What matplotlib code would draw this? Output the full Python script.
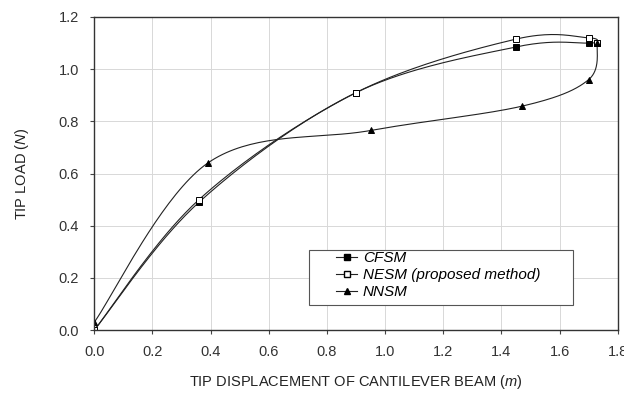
import numpy as np
import matplotlib.pyplot as plt
from matplotlib.lines import Line2D
from matplotlib.patches import Rectangle

plt.rcParams['font.family'] = 'Liberation Sans'
plt.rcParams['mathtext.fontset'] = 'custom'
plt.rcParams['mathtext.it'] = 'Liberation Sans:italic'
plt.rcParams['mathtext.rm'] = 'Liberation Sans'

# data
cfsm_x = [0.0, 0.36, 0.90, 1.45, 1.70, 1.73]
cfsm_y = [0.0, 0.49, 0.91, 1.085, 1.10, 1.10]
nesm_x = [0.0, 0.36, 0.90, 1.45, 1.70, 1.73]
nesm_y = [0.0, 0.50, 0.91, 1.115, 1.12, 1.10]
nnsm_x = [0.0, 0.39, 0.95, 1.47, 1.70, 1.73]
nnsm_y = [0.03, 0.64, 0.765, 0.858, 0.96, 1.10]
labels = ['CFSM', 'NESM (proposed method)', 'NNSM']


def smooth(xs, ys, n=40):
    # cardinal spline through the points, like a smoothed spreadsheet line
    p = np.column_stack([xs, ys]).astype(float)
    p = np.vstack([p[0], p, p[-1]])
    out = []
    for i in range(1, len(p) - 2):
        p0, p1, p2, p3 = p[i - 1], p[i], p[i + 1], p[i + 2]
        t = np.linspace(0, 1, n)[:, None]
        c1 = p1 + (p2 - p0) / 6
        c2 = p2 - (p3 - p1) / 6
        seg = ((1 - t) ** 3 * p1 + 3 * (1 - t) ** 2 * t * c1
               + 3 * (1 - t) * t ** 2 * c2 + t ** 3 * p2)
        out.append(seg)
    out = np.vstack(out)
    return out[:, 0], out[:, 1]


fig = plt.figure(figsize=(6.24, 3.94), dpi=100)
ax = fig.add_axes([0.151, 0.162, 0.839, 0.795])

col = '#222222'
for xs, ys, mk, mfc in [(cfsm_x, cfsm_y, 's', 'black'),
                        (nesm_x, nesm_y, 's', 'white'),
                        (nnsm_x, nnsm_y, '^', 'black')]:
    sx, sy = smooth(xs, ys)
    ax.plot(sx, sy, color=col, lw=0.8)
    ax.plot(xs, ys, ls='none', marker=mk, ms=5, mfc=mfc, mec='black', mew=0.7)

ax.set_xlim(0, 1.8)
ax.set_ylim(0, 1.2)
ax.set_xticks(np.arange(0, 1.81, 0.2))
ax.set_yticks(np.arange(0, 1.21, 0.2))
ax.xaxis.set_major_formatter(plt.FormatStrFormatter('%.1f'))
ax.yaxis.set_major_formatter(plt.FormatStrFormatter('%.1f'))
ax.grid(True, color='#d8d8d8', lw=0.7)
ax.set_axisbelow(True)
ax.tick_params(labelsize=10.5, length=3, color='#444444', labelcolor='#333333')
ax.tick_params(axis='x', pad=8)
ax.tick_params(axis='y', pad=8)
for s in ax.spines.values():
    s.set_linewidth(1.0)
    s.set_color('#333333')

ax.set_xlabel(r'TIP DISPLACEMENT OF CANTILEVER BEAM ($\it{m}$)', fontsize=10.5,
              color='#222222', labelpad=10)
ax.set_ylabel(r'TIP LOAD ($\it{N}$)', fontsize=10.5, color='#222222', labelpad=20)

handles = [Line2D([], [], color=col, lw=0.8, marker='s', ms=5, mfc='black', mec='black'),
           Line2D([], [], color=col, lw=0.8, marker='s', ms=5, mfc='white', mec='black'),
           Line2D([], [], color=col, lw=0.8, marker='^', ms=5, mfc='black', mec='black')]
ax.legend(handles, labels, loc='upper left', bbox_to_anchor=(0.462, 0.252),
          prop={'style': 'italic', 'size': 11}, frameon=False,
          handlelength=1.4, labelspacing=0.2, borderpad=0, borderaxespad=0,
          handletextpad=0.35)
ax.add_patch(Rectangle((0.410, 0.080), 0.504, 0.176, transform=ax.transAxes,
                       fill=True, facecolor='white', edgecolor='#555555', lw=0.8,
                       zorder=4))

plt.savefig('out.png', dpi=100)
